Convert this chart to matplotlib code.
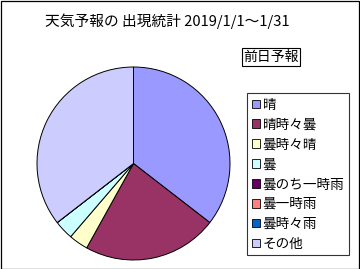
import matplotlib
matplotlib.use("Agg")
import matplotlib.pyplot as plt
from matplotlib.patches import Rectangle

plt.rcParams['font.family'] = ['Noto Sans CJK JP', 'DejaVu Sans']

# 天気予報の出現回数 (2019/1/1～1/31, 31日)
categories = ["晴", "晴時々曇", "曇時々晴", "曇", "曇のち一時雨", "曇一時雨", "曇時々雨", "その他"]
counts = [11, 7, 1, 1, 0, 0, 0, 11]
colors = ["#9999FF", "#993366", "#FFFFCC", "#CCFFFF", "#660066", "#FF8080", "#0066CC", "#CCCCFF"]

W, H = 360, 269
fig = plt.figure(figsize=(W / 100, H / 100), dpi=100)

# 円グラフ
ax = fig.add_axes([(133.5 - 96.5) / W, (H - 260) / H, 193 / W, 193 / H])
wedges, _ = ax.pie(counts, colors=colors, startangle=90, counterclock=False,
                   wedgeprops=dict(edgecolor="black", linewidth=0.7))
ax.set_xlim(-1, 1)
ax.set_ylim(-1, 1)
ax.set_aspect("equal")

# タイトル
fig.text(45 / W, 1 - 21 / H, "天気予報の 出現統計 2019/1/1～1/31", fontsize=10.6,
         ha="left", va="center")

# 系列名
fig.text(271 / W, 1 - 57 / H, "前日予報", fontsize=10, ha="center", va="center",
         bbox=dict(boxstyle="square,pad=0.12", facecolor="white", edgecolor="black", linewidth=0.8))

# 凡例
leg = fig.legend(wedges, categories, loc="upper left", bbox_to_anchor=(247 / W, 1 - 93 / H),
                 fontsize=9.8, frameon=True, fancybox=False, edgecolor="black",
                 handlelength=0.6, handleheight=0.6, handletextpad=0.2,
                 labelspacing=0.43, borderpad=0.35, borderaxespad=0)
leg.get_frame().set_linewidth(0.8)
for h in leg.legend_handles:
    h.set_edgecolor("black")
    h.set_linewidth(0.6)

# 外枠
fig.patches.append(Rectangle((0.5 / W, 0.5 / H), 1 - 1.5 / W, 1 - 1.5 / H, transform=fig.transFigure,
                             fill=False, edgecolor="black", linewidth=0.9))

fig.savefig("out.png", dpi=100)
